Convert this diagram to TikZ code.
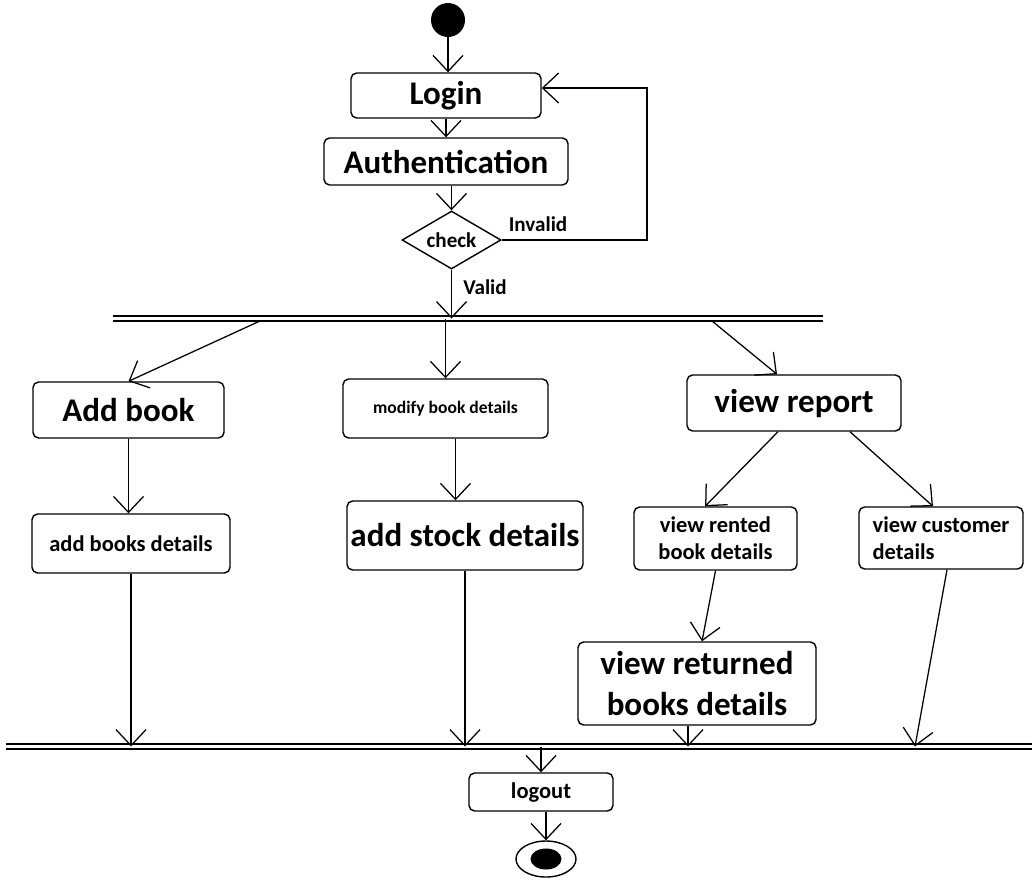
\documentclass[tikz,border=0pt]{standalone}
\usepackage{fontspec}
\setmainfont{Carlito}
\usetikzlibrary{positioning, arrows.meta, calc, shapes.geometric}

\tikzset{
  act/.style={draw, rounded corners=4pt, line width=1pt, align=center, inner sep=0pt},
  flow/.style={-{Straight Barb[length=0.4cm, width=0.75cm]}, line width=0.9pt},
  bar/.style={double, double distance=2.4pt, line width=1.1pt},
  bigtxt/.style={font=\bfseries\fontsize{23.5}{29}\selectfont},
  midtxt/.style={font=\bfseries\fontsize{16}{19}\selectfont},
  smalltxt/.style={font=\bfseries\fontsize{12.5}{15}\selectfont},
  labeltxt/.style={font=\bfseries\fontsize{15}{18}\selectfont},
}

\begin{document}
\begin{tikzpicture}[x=0.025cm, y=-0.025cm]
					\useasboundingbox (0,0) rectangle (1032,884);
					
					\node[circle, fill, minimum size=0.85cm, inner sep=0pt] (start) at (448,20) {};
					\node[act, bigtxt, minimum width=4.75cm, minimum height=1.125cm] (login) at (446,95.5) {Login};
					\node[act, bigtxt, minimum width=6.1cm, minimum height=1.175cm] (auth) at (446,161.5) {Authentication};
					\node[diamond, draw, line width=1pt, aspect=1.7, inner sep=0pt, minimum width=2.475cm, minimum height=1.45cm, labeltxt] (check) at (451.5,240) {check};
					\node[labeltxt] (invalid) at (538,224) {Invalid};
					\node[labeltxt] (valid) at (485,287) {Valid};
					
					% fork and join bars
					\coordinate (forkL) at (113,318.5);
					\coordinate (forkR) at (823,318.5);
					\coordinate (joinL) at (6,746.5);
					\coordinate (joinR) at (1032,746.5);
					\draw[bar] (forkL) -- (forkR);
					\draw[bar] (joinL) -- (joinR);
					
					\node[act, bigtxt, minimum width=4.775cm, minimum height=1.4cm] (addbook) at (128.5,410) {Add book};
					\node[act, smalltxt, minimum width=5.125cm, minimum height=1.475cm] (modify) at (445.5,408.5) {modify book details};
					\node[act, bigtxt, minimum width=5.35cm, minimum height=1.4cm] (report) at (794,403) {view report};
					\node[act, midtxt, minimum width=4.95cm, minimum height=1.475cm] (bookdet) at (131,543.5) {add books details};
					\node[act, bigtxt, minimum width=5.9cm, minimum height=1.725cm] (stock) at (465,535.5) {add stock details};
					\node[act, midtxt, minimum width=4.075cm, minimum height=1.575cm] (rented) at (715.5,538.5) {view rented\\book details};
					\node[act, midtxt, minimum width=4.1cm, minimum height=1.55cm, align=left] (customer) at (941,538) {view customer\\details};
					\node[act, bigtxt, minimum width=5.95cm, minimum height=2.075cm] (returned) at (697,683.5) {view returned\\books details};
					\node[act, midtxt, minimum width=3.6cm, minimum height=0.95cm] (logout) at (541,792) {logout};
					\node[ellipse, draw, line width=1pt, minimum width=1.5cm, minimum height=0.9cm] (stop) at (546,859) {};
					\fill (stop) ellipse [x radius=15.5, y radius=10.5];
					
					\coordinate (back) at (647,88);
					\coordinate (f1) at (260,321);
					\coordinate (f3) at (712,321);
					\coordinate (j4) at (915,746.5);
					
					\draw[flow] (start) -- (start |- login.north);
					\draw[flow] (login) -- (auth);
					\draw[flow] (auth.south -| check.north) -- (check.north);
					\draw[flow] (check.east) -| (back) -- (back -| login.east);
					\draw[flow] (check.south) -- (check.south |- forkL);
					\draw[flow] (f1) -- (addbook.north);
					\draw[flow] (modify.north |- forkL) -- (modify.north);
					\draw[flow] (f3) -- ([xshift=-0.425cm]report.north);
					\draw[flow] (addbook.south) -- (addbook.south |- bookdet.north);
					\draw[flow] ([xshift=0.25cm]modify.south) -- ([xshift=0.25cm]modify.south |- stock.north);
					\draw[flow] ([xshift=-0.4cm]report.south) -- ([xshift=-0.26cm]rented.north);
					\draw[flow] ([xshift=1.4cm]report.south) -- ([xshift=-0.2cm]customer.north);
					\draw[flow] (rented.south) -- ([xshift=0.125cm]returned.north);
					\draw[flow] (bookdet.south) -- (bookdet.south |- joinL);
					\draw[flow] (stock.south) -- (stock.south |- joinL);
					\draw[flow] ([xshift=-0.225cm]returned.south) -- ([xshift=-0.225cm]returned.south |- joinL);
					\draw[flow] ([xshift=0.15cm]customer.south) -- (j4);
					\draw[flow] (logout.north |- joinL) -- (logout.north);
					\draw[flow] (logout.south -| stop.north) -- (stop.north);
				\end{tikzpicture}
\end{document}
